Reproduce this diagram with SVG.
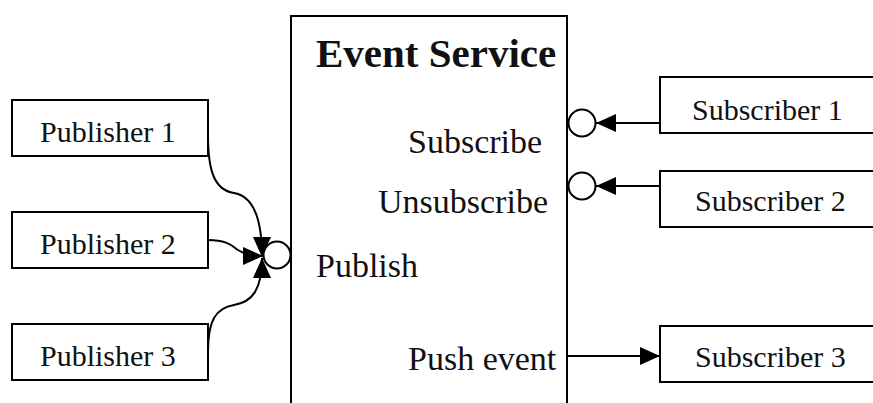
<svg xmlns="http://www.w3.org/2000/svg" width="873" height="403" viewBox="0 0 873 403">
  <style>
    .box { fill: #fff; stroke: #000; stroke-width: 2; }
    .port { fill: #fff; stroke: #000; stroke-width: 2; }
    .wire { fill: none; stroke: #000; stroke-width: 2; }
    .lbl { font-family: "Liberation Serif", "Times New Roman", serif; fill: #111; }
    .node { font-size: 30px; }
    .op { font-size: 34px; }
    .title { font-size: 41px; font-weight: bold; }
  </style>
  <defs>
    <marker id="head" markerUnits="userSpaceOnUse" markerWidth="20" markerHeight="18" refX="20" refY="9" orient="auto">
      <path d="M0,0 L20,9 L0,18 z" fill="#000"/>
    </marker>
  </defs>

  <rect width="873" height="403" fill="#fff"/>

  <!-- central service -->
  <g id="event-service">
    <rect class="box" x="291" y="16" width="276" height="400"/>
    <text class="lbl title" x="316" y="67">Event Service</text>
    <text class="lbl op" x="408" y="153">Subscribe</text>
    <text class="lbl op" x="378" y="213">Unsubscribe</text>
    <text class="lbl op" x="316" y="277">Publish</text>
    <text class="lbl op" x="408" y="370">Push event</text>
    <circle class="port" cx="277" cy="255" r="13.5"/>
    <circle class="port" cx="582" cy="123" r="13.5"/>
    <circle class="port" cx="582" cy="186" r="13.5"/>
  </g>

  <!-- publishers -->
  <g id="publisher-1">
    <rect class="box" x="12" y="100" width="196" height="56"/>
    <text class="lbl node" x="40" y="142">Publisher 1</text>
  </g>
  <g id="publisher-2">
    <rect class="box" x="12" y="212" width="196" height="56"/>
    <text class="lbl node" x="40" y="254">Publisher 2</text>
  </g>
  <g id="publisher-3">
    <rect class="box" x="12" y="324" width="196" height="56"/>
    <text class="lbl node" x="40" y="366">Publisher 3</text>
  </g>

  <!-- subscribers -->
  <g id="subscriber-1">
    <rect class="box" x="660" y="77" width="230" height="56"/>
    <text class="lbl node" x="692" y="120">Subscriber 1</text>
  </g>
  <g id="subscriber-2">
    <rect class="box" x="660" y="171" width="230" height="56"/>
    <text class="lbl node" x="695" y="211">Subscriber 2</text>
  </g>
  <g id="subscriber-3">
    <rect class="box" x="660" y="326" width="230" height="56"/>
    <text class="lbl node" x="695" y="367">Subscriber 3</text>
  </g>

  <!-- connectors -->
  <g id="connectors">
    <path class="wire" d="M208,135 C208,170 214,190 234,193 C252,196 262,215 262,257" marker-end="url(#head)"/>
    <path class="wire" d="M208,240 C228,240 232,246 238,250 C246,255 252,256 263,256" marker-end="url(#head)"/>
    <path class="wire" d="M208,352 C208,320 216,308 234,305 C252,302 262,290 262,258" marker-end="url(#head)"/>
    <line class="wire" x1="660" y1="123" x2="596" y2="123" marker-end="url(#head)"/>
    <line class="wire" x1="660" y1="186" x2="596" y2="186" marker-end="url(#head)"/>
    <line class="wire" x1="567" y1="356" x2="660" y2="356" marker-end="url(#head)"/>
  </g>
</svg>
